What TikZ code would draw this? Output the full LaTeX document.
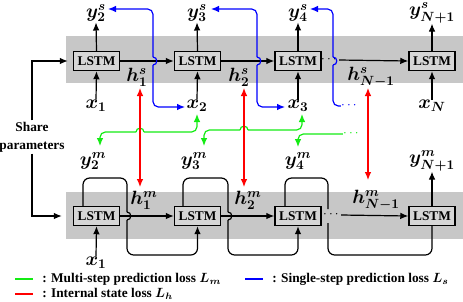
\documentclass[tikz,border=0pt]{standalone}
\usepackage[no-math]{fontspec}
\setmainfont{Liberation Serif}
\usepackage{amsmath,bm}
\usetikzlibrary{arrows.meta,calc}
\definecolor{gline}{RGB}{20,235,20}
\definecolor{bline}{RGB}{0,0,255}
\definecolor{rline}{RGB}{255,0,0}
\begin{document}
\begin{tikzpicture}[x=0.75pt,y=-0.75pt,
  cell/.style={draw,line width=1.1pt,fill=black!16,minimum width=34.5pt,minimum height=14.25pt,inner sep=0pt,font=\fontsize{10}{11}\selectfont\bfseries},
  lab/.style={inner sep=0.3pt,font=\fontsize{14}{15}\selectfont},
  tip/.style={-{Latex[length=6pt,width=5pt]}},
  rtip/.style={{Latex[length=6pt,width=5pt]}-},
  btip/.style={{Latex[length=6pt,width=5pt]}-{Latex[length=6pt,width=5pt]}},
  conn/.style={line width=0.9pt},
  arr/.style={conn,tip},
  bl/.style={draw=bline,line width=0.9pt},
  gr/.style={draw=gline,line width=0.9pt},
  rd/.style={draw=rline,line width=0.9pt},
  legtxt/.style={anchor=west,inner sep=0pt,font=\fontsize{10}{11}\selectfont\bfseries},
  dots/.style={inner sep=0pt,font=\fontsize{10}{11}\selectfont}
]
\useasboundingbox (0,0) rectangle (463,301);
% bands
\fill[black!22] (66,36) rectangle (463,83);
\fill[black!22] (66,192) rectangle (463,239);

% top cells
\node[cell] (s1) at (96.5,61) {LSTM};
\node[cell] (s2) at (197.5,61) {LSTM};
\node[cell] (s3) at (298,61) {LSTM};
\node[cell] (s4) at (432,61) {LSTM};
% bottom cells
\node[cell] (m1) at (96.5,216) {LSTM};
\node[cell] (m2) at (197.5,216) {LSTM};
\node[cell] (m3) at (298,216) {LSTM};
\node[cell] (m4) at (432,216) {LSTM};

% top labels
\node[lab] (ys2) at (96,13) {$\bm{y_2^s}$};
\node[lab] (ys3) at (197,13) {$\bm{y_3^s}$};
\node[lab] (ys4) at (298,13) {$\bm{y_4^s}$};
\node[lab] (ysN) at (432,13) {$\bm{y_{N+1}^s}$};
\node[lab] (xs1) at (96,106) {$\bm{x_1}$};
\node[lab] (xs2) at (197,106) {$\bm{x_2}$};
\node[lab] (xs3) at (298,106) {$\bm{x_3}$};
\node[lab] (xsN) at (432,106) {$\bm{x_N}$};
\node[lab] (hs1) at (137,77) {$\bm{h_1^s}$};
\node[lab] (hs2) at (239,77) {$\bm{h_2^s}$};
\node[lab] (hsN) at (371,77) {$\bm{h_{N-1}^s}$};
% bottom labels
\node[lab] (ym2) at (93,161) {$\bm{y_2^m}$};
\node[lab] (ym3) at (194,161) {$\bm{y_3^m}$};
\node[lab] (ym4) at (298,161) {$\bm{y_4^m}$};
\node[lab] (ymN) at (432,161) {$\bm{y_{N+1}^m}$};
\node[lab] (hm1) at (144,200) {$\bm{h_1^m}$};
\node[lab] (hm2) at (248,200) {$\bm{h_2^m}$};
\node[lab] (hmN) at (376,200) {$\bm{h_{N-1}^m}$};
\node[lab] (xm1) at (96,263) {$\bm{x_1}$};

% top arrows
\foreach \c/\y in {s1/ys2,s2/ys3,s3/ys4,s4/ysN}{\draw[arr] (\c.north) -- (\y.south);}
\foreach \c/\x in {s1/xs1,s2/xs2,s3/xs3,s4/xsN}{\draw[arr] (\x.north) -- (\c.south);}
\draw[arr] (s1.east) -- (s2.west);
\draw[arr] (s2.east) -- (s3.west);
\node[dots] (dts) at (330,60) {$\cdots$};
\draw[arr] (dts.east) -- (s4.west);

% bottom arrows
\draw[arr] (m1.east) -- (m2.west);
\draw[arr] (m2.east) -- (m3.west);
\node[dots] (dtm) at (332,215) {$\cdots$};
\draw[arr] (dtm.east) -- (m4.west);
\draw[arr] (m4.north) -- (ymN.south);
\draw[arr] (xm1.north) -- (m1.south);

% bottom loops
\draw[conn,rounded corners=5] ($(m1.north)+(-13.5,0)$) |- (127,178) -- (127,212);
\draw[conn] (127,212) .. controls (132,212) and (132,220) .. (127,220);
\draw[arr,rounded corners=5] (127,220) -- (127,255) -| (m2.south);
\draw[conn,rounded corners=5] ($(m2.north)+(-14.5,0)$) |- (228,178) -- (228,212);
\draw[conn] (228,212) .. controls (233,212) and (233,220) .. (228,220);
\draw[arr,rounded corners=5] (228,220) -- (228,255) -| (m3.south);
\draw[conn,rounded corners=5] ($(m3.north)+(-13,0)$) |- (328,178) -- (328,209);
\draw[conn,rounded corners=5] (328,223) -- (328,255) -| (m4.south);

% share parameters
\node[inner sep=1pt,align=center,font=\fontsize{10}{13.5}\selectfont\bfseries] (sp) at (32,137) {Share\\parameters};
\draw[arr] (sp.north) |- ($(s1.west)+(-5,0)$);
\draw[arr] (sp.south) |- ($(m1.west)+(-11,0)$);

% blue single-step links
\draw[bl,rounded corners=4,rtip] ($(ys2)+(12,-4)$) -| (153,57);
\draw[bl] (153,57) .. controls (158,57) and (158,65) .. (153,65);
\draw[bl,rounded corners=4,tip] (153,65) |- ($(xs2)+(-12,1)$);
\draw[bl,rounded corners=4,rtip] ($(ys3)+(14,-4)$) -| (257,57);
\draw[bl] (257,57) .. controls (262,57) and (262,65) .. (257,65);
\draw[bl,rounded corners=4,tip] (257,65) |- ($(xs3)+(-13,1)$);
\draw[bl,rounded corners=4,rtip] ($(ys4)+(12,-4)$) -| (333,57);
\draw[bl] (333,57) .. controls (338,57) and (338,65) .. (333,65);
\node[dots,text=bline] (bdots) at (350,106) {$\cdots$};
\draw[bl,rounded corners=4] (333,65) |- (bdots.west);

% green multi-step links
\draw[gr,rounded corners=4,rtip] ($(xs2)+(0,8)$) |- (144,132);
\draw[gr] (144,132) .. controls (144,127) and (136,127) .. (136,132);
\draw[gr,rounded corners=4,tip] (136,132) -| ($(ym2)+(7,-15)$);
\draw[gr,rounded corners=4,rtip] ($(xs3)+(4,8)$) |- (248,130);
\draw[gr] (248,130) .. controls (248,125) and (240,125) .. (240,130);
\draw[gr,rounded corners=4,tip] (240,130) -| ($(ym3)+(10,-15)$);
\node[dots,text=gline] (gdots) at (352,134) {$\cdots$};
\draw[gr,rounded corners=4,tip] (gdots.west) -| ($(ym4)+(0,-14)$);

% red internal-state links
\draw[rd,btip] ($(hs1)+(3,11)$) -- ($(hm1)+(-4,-13)$);
\draw[rd,btip] ($(hs2)+(5,11)$) -- ($(hm2)+(-4,-13)$);
\draw[rd,btip] ($(hsN)+(-3,11)$) -- ($(hmN)+(-8,-20)$);

% legend
\coordinate (lg1) at (15,279); \coordinate (lg1e) at (33,279);
\coordinate (lg2) at (15,294); \coordinate (lg2e) at (33,294);
\coordinate (lg3) at (245,279); \coordinate (lg3e) at (263,279);
\draw[gr] (lg1) -- (lg1e);
\draw[rd] (lg2) -- (lg2e);
\draw[bl] (lg3) -- (lg3e);
\node[legtxt] (t1) at (42,279) {: Multi-step prediction loss $\bm{L_m}$};
\node[legtxt] (t2) at (42,294) {: Internal state loss $\bm{L_h}$};
\node[legtxt] (t3) at (272,279) {: Single-step prediction loss $\bm{L_s}$};
\end{tikzpicture}
\end{document}
